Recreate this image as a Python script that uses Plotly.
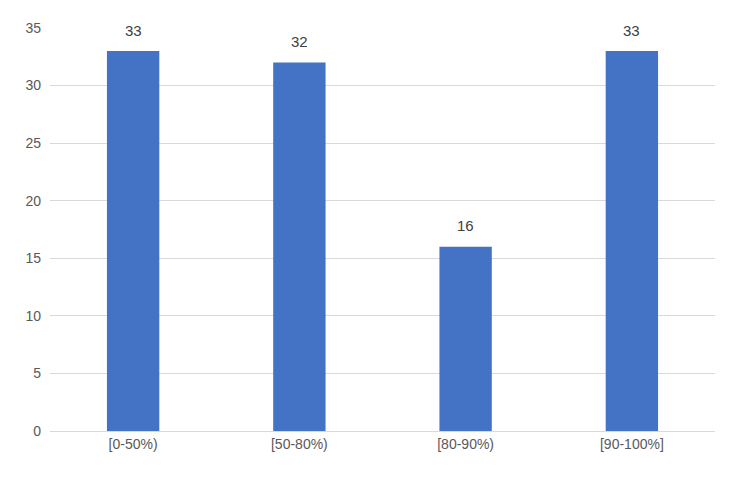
import plotly.graph_objects as go

categories = ["[0-50%)", "[50-80%)", "[80-90%)", "[90-100%]"]
counts = [33, 32, 16, 33]

fig = go.Figure(
    go.Bar(x=categories, y=counts, marker_color="#4472C4", marker_line_width=0)
)
# value labels above the bars
for cat, val in zip(categories, counts):
    fig.add_annotation(
        x=cat, y=val, text=str(val), showarrow=False, yshift=21,
        font=dict(size=15, color="#404040"),
    )
fig.update_layout(
    width=723,
    height=461,
    margin=dict(l=42, r=16, t=16, b=38),
    plot_bgcolor="white",
    paper_bgcolor="white",
    bargap=0.685,
    font=dict(family="Liberation Sans, Arial", size=14, color="#595959"),
    showlegend=False,
)
fig.update_yaxes(
    range=[0, 35], dtick=5, gridcolor="#D9D9D9", zeroline=False,
    showline=False, ticks="", ticklabelstandoff=8,
)
fig.update_xaxes(showline=True, linecolor="#D9D9D9", ticks="")
fig.write_html("out.html")
